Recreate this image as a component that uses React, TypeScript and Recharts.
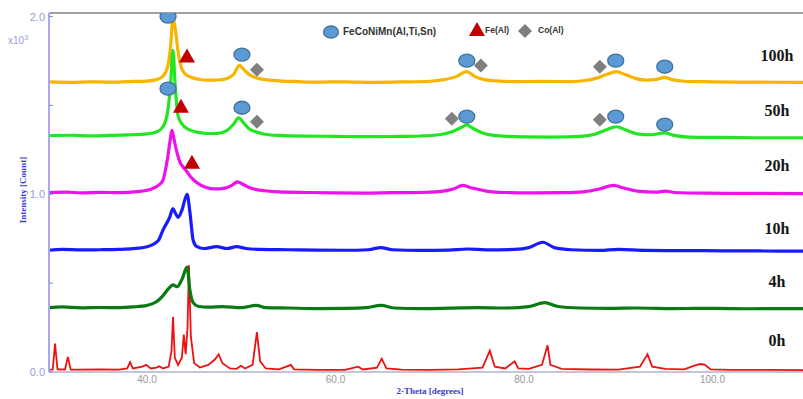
import { ComposedChart, Line, Scatter, XAxis, YAxis, ReferenceLine } from 'recharts';

type Pt = [number, number];

// intensity in thousands of counts vs 2-theta (degrees)
const h100: Pt[] = [
  [29.6, 1.632], [32, 1.630], [34, 1.633], [36, 1.631], [38, 1.634], [40, 1.637], [41, 1.645], [41.7, 1.665],
  [42.2, 1.72], [42.5, 1.83], [42.75, 1.99], [43.0, 1.93], [43.3, 1.80], [43.6, 1.72], [44.0, 1.68], [44.6, 1.66],
  [45.5, 1.647], [46.5, 1.642], [47.5, 1.643], [48.5, 1.652], [49.2, 1.675], [49.8, 1.725], [50.3, 1.70],
  [50.9, 1.672], [51.6, 1.655], [52.5, 1.645], [54, 1.638], [56, 1.634], [58, 1.631], [61, 1.633], [64, 1.630],
  [67, 1.632], [70, 1.636], [71.5, 1.645], [72.8, 1.662], [73.9, 1.69], [74.8, 1.662], [75.8, 1.645], [77, 1.638],
  [79, 1.634], [82, 1.635], [85, 1.634], [86.5, 1.64], [87.8, 1.655], [88.8, 1.675], [89.8, 1.69], [90.8, 1.672],
  [91.8, 1.652], [93, 1.642], [94.2, 1.648], [94.9, 1.658], [95.7, 1.645], [97, 1.636], [100, 1.633], [104, 1.631],
  [109.6, 1.63],
];

const h50: Pt[] = [
  [29.6, 1.33], [32, 1.332], [34, 1.329], [36, 1.331], [38, 1.334], [40, 1.34], [41, 1.35], [41.7, 1.38],
  [42.2, 1.47], [42.5, 1.62], [42.75, 1.81], [43.0, 1.60], [43.3, 1.44], [43.8, 1.39], [44.4, 1.365], [45.3, 1.35],
  [46.5, 1.342], [47.5, 1.343], [48.5, 1.36], [49.2, 1.395], [49.7, 1.43], [50.2, 1.405], [50.8, 1.37],
  [51.6, 1.35], [52.5, 1.338], [54, 1.331], [57, 1.327], [60, 1.326], [63, 1.324], [66, 1.325], [69, 1.328],
  [71, 1.335], [72.5, 1.355], [73.5, 1.38], [73.9, 1.39], [74.6, 1.37], [75.6, 1.345], [77, 1.33], [80, 1.323],
  [83, 1.322], [86, 1.326], [87.5, 1.338], [88.6, 1.36], [89.8, 1.38], [90.8, 1.362], [92, 1.34], [93.5, 1.335],
  [94.9, 1.346], [95.8, 1.333], [97.5, 1.322], [101, 1.32], [105, 1.318], [109.6, 1.318],
];

const h20: Pt[] = [
  [29.6, 1.01], [31.5, 1.012], [33, 1.008], [35, 1.011], [37, 1.009], [39, 1.015], [40.5, 1.03], [41.2, 1.05],
  [41.7, 1.08], [42.2, 1.21], [42.5, 1.32], [42.65, 1.36], [42.9, 1.30], [43.2, 1.23], [43.5, 1.18], [43.8, 1.155],
  [44.2, 1.13], [44.6, 1.10], [45.3, 1.065], [46.2, 1.04], [47.2, 1.03], [48.3, 1.035], [49.0, 1.05], [49.6, 1.07],
  [50.2, 1.055], [51, 1.035], [52.5, 1.02], [54, 1.013], [57, 1.01], [60, 1.008], [63, 1.007], [66, 1.009],
  [69, 1.01], [71, 1.015], [72.5, 1.03], [73.5, 1.05], [74.5, 1.035], [76, 1.018], [78, 1.01], [81, 1.008],
  [84, 1.009], [86.5, 1.015], [88, 1.03], [89.5, 1.05], [90.6, 1.035], [92, 1.018], [94, 1.012], [95, 1.018],
  [96, 1.01], [99, 1.006], [103, 1.005], [109.6, 1.004],
];

const h10: Pt[] = [
  [29.6, 0.685], [31, 0.69], [33, 0.687], [35, 0.688], [37, 0.69], [38.5, 0.694], [40, 0.705], [41.2, 0.74],
  [41.7, 0.80], [42.4, 0.87], [42.75, 0.92], [43.0, 0.895], [43.3, 0.87], [43.7, 0.91], [44.25, 1.0], [44.55, 0.90],
  [44.9, 0.74], [45.3, 0.705], [46, 0.695], [47.4, 0.705], [48.5, 0.695], [49.5, 0.705], [50.5, 0.695], [52, 0.69],
  [55, 0.688], [58, 0.686], [61, 0.685], [63.5, 0.688], [64.8, 0.70], [66, 0.688], [69, 0.684], [72, 0.686],
  [74, 0.692], [76, 0.687], [79, 0.69], [80.5, 0.70], [82, 0.73], [83.2, 0.70], [85, 0.688], [88, 0.684],
  [90, 0.69], [93, 0.684], [97, 0.683], [101, 0.682], [105, 0.681], [109.6, 0.68],
];

const h4: Pt[] = [
  [29.6, 0.362], [31, 0.366], [33, 0.361], [35, 0.363], [37, 0.362], [38.5, 0.366], [40, 0.375], [41, 0.395],
  [41.7, 0.43], [42.3, 0.47], [42.75, 0.49], [43.2, 0.48], [43.7, 0.52], [44.25, 0.59], [44.55, 0.46], [44.9, 0.39],
  [45.4, 0.37], [46.5, 0.365], [48, 0.368], [50, 0.362], [51.6, 0.375], [52.6, 0.362], [55, 0.36], [58, 0.357],
  [61, 0.358], [63.3, 0.362], [64.8, 0.375], [66.3, 0.36], [69, 0.357], [72, 0.359], [75, 0.362], [78, 0.36],
  [80.5, 0.368], [82.2, 0.39], [83.5, 0.37], [86, 0.36], [89, 0.358], [92, 0.36], [96, 0.357], [100, 0.358],
  [104, 0.356], [109.6, 0.357],
];

const h0: Pt[] = [
  [29.6, 0.012], [30.0, 0.015], [30.24, 0.16], [30.5, 0.015], [31.3, 0.014], [31.6, 0.085], [31.9, 0.014],
  [33, 0.013], [35, 0.015], [37, 0.013], [37.9, 0.02], [38.2, 0.055], [38.5, 0.02], [39.5, 0.03], [39.9, 0.04],
  [40.4, 0.02], [41, 0.025], [41.3, 0.032], [41.7, 0.02], [42.3, 0.03], [42.6, 0.12], [42.76, 0.31], [42.95, 0.08],
  [43.3, 0.04], [43.7, 0.08], [43.9, 0.21], [44.1, 0.1], [44.3, 0.25], [44.45, 0.6], [44.65, 0.2], [45, 0.05],
  [45.6, 0.025], [46.5, 0.04], [47.2, 0.07], [47.6, 0.1], [48.0, 0.05], [48.8, 0.02], [49.5, 0.018], [49.97, 0.035],
  [50.4, 0.02], [51.2, 0.04], [51.66, 0.225], [52.0, 0.06], [52.6, 0.02], [54, 0.015], [55.27, 0.04], [55.6, 0.015],
  [58, 0.012], [61, 0.012], [62.4, 0.03], [62.9, 0.014], [64.4, 0.025], [64.9, 0.075], [65.4, 0.02], [67, 0.013],
  [70, 0.012], [73, 0.015], [75.6, 0.025], [76.37, 0.12], [76.9, 0.03], [78, 0.02], [79.0, 0.06], [79.4, 0.02],
  [80.5, 0.018], [81.9, 0.04], [82.5, 0.15], [82.8, 0.04], [84, 0.018], [87, 0.014], [90, 0.013], [92.3, 0.03],
  [93.1, 0.1], [93.6, 0.03], [95, 0.018], [97, 0.015], [98.3, 0.04], [98.75, 0.045], [99.2, 0.04], [99.8, 0.015],
  [102, 0.012], [106, 0.012], [109.6, 0.011],
];

// phase markers
const feCoNiMn: Pt[] = [
  [42.23, 2.0], [50.07, 1.786], [73.93, 1.752], [89.73, 1.752], [94.93, 1.718],
  [42.23, 1.594], [50.07, 1.487], [73.93, 1.437], [89.73, 1.437], [94.93, 1.392],
];
const feAl: Pt[] = [[44.24, 1.775], [43.6, 1.493], [44.77, 1.177]];
const coAl: Pt[] = [
  [51.66, 1.701], [75.42, 1.724], [88.04, 1.718],
  [51.66, 1.408], [72.34, 1.425], [88.04, 1.42],
];

const seriesNames = ['0h', '4h', '10h', '20h', '100h', '50h'];
const seriesData = [h0, h4, h10, h20, h100, h50];
const seriesColors = ['#ee1111', '#0b7a12', '#1a1aff', '#ee11ee', '#f7b500', '#22e622'];

const hourLabels = ['100h', '50h', '20h', '10h', '4h', '0h'];
const hourLabelTops = [57, 112, 167, 230, 283, 342];

const xTicks = [40, 60, 80, 100];
const yTicks = [0, 0.5, 1, 1.5, 2];

const toRows = (pts: Pt[]) => pts.map(([x, y]) => ({ x, y }));

const Ellipse = (p: any) => (
  <ellipse cx={p.cx} cy={p.cy} rx={8} ry={6.5} fill="#5b9bd5" stroke="#41719c" strokeWidth={1.3} />
);
const Triangle = (p: any) => (
  <polygon points={`${p.cx},${p.cy - 8} ${p.cx - 8},${p.cy + 6} ${p.cx + 8},${p.cy + 6}`} fill="#c00000" />
);
const Diamond = (p: any) => (
  <polygon points={`${p.cx},${p.cy - 7} ${p.cx + 7},${p.cy} ${p.cx},${p.cy + 7} ${p.cx - 7},${p.cy}`} fill="#7f7f7f" />
);

const YTick = (p: any) => {
  const v = p.payload.value;
  const whole = Number.isInteger(v);
  return (
    <g>
      <line x1={p.x + 4} x2={p.x + 8} y1={p.y} y2={p.y} stroke="#8888cc" strokeWidth={1} />
      {whole && (
        <text x={p.x} y={p.y} dy={4} textAnchor="end" fontSize={11} fill="#9a9ae0" fontFamily="Liberation Sans, Arial">
          {v.toFixed(1)}
        </text>
      )}
    </g>
  );
};

const serifBlue = { fontFamily: 'Liberation Serif, Times New Roman, serif', fontWeight: 700, color: '#3a3ad0', fontSize: 9 };

export default function App() {
  return (
    <div style={{ position: 'absolute', left: 0, top: 0, width: 803, height: 399, overflow: 'hidden', background: '#fff' }}>
      <ComposedChart width={803} height={399} margin={{ top: 13, right: 0, bottom: 0, left: 0 }}>
        <XAxis
          dataKey="x"
          type="number"
          domain={[29.6, 109.6]}
          ticks={xTicks}
          allowDataOverflow
          height={27}
          tickSize={0}
          tickMargin={4}
          tickFormatter={(v: number) => v.toFixed(1)}
          tick={{ fontSize: 10, fill: '#999', fontFamily: 'Liberation Sans, Arial' }}
          axisLine={{ stroke: '#c4c6d6', strokeWidth: 2 }}
        />
        <YAxis
          dataKey="y"
          type="number"
          domain={[0, 2.02]}
          ticks={yTicks}
          allowDataOverflow
          width={49}
          tickSize={0}
          tickMargin={4}
          tickLine={false}
          tick={<YTick />}
          axisLine={{ stroke: '#a8a8f0', strokeWidth: 2 }}
        />
        <ReferenceLine y={2.02} stroke="#a0a0a0" strokeWidth={2} />
        {seriesData.map((d, i) => (
          <Line
            key={seriesNames[i]}
            data={toRows(d)}
            dataKey="y"
            type={i === 0 ? 'linear' : 'monotone'}
            stroke={seriesColors[i]}
            strokeWidth={i === 0 ? 1.8 : 3.2}
            dot={false}
            isAnimationActive={false}
          />
        ))}
        <Scatter data={toRows(coAl)} dataKey="y" shape={Diamond} isAnimationActive={false} />
        <Scatter data={toRows(feAl)} dataKey="y" shape={Triangle} isAnimationActive={false} />
        <Scatter data={toRows(feCoNiMn)} dataKey="y" shape={Ellipse} isAnimationActive={false} />
      </ComposedChart>

      {/* legend */}
      <svg width={803} height={50} style={{ position: 'absolute', left: 0, top: 0 }}>
        <ellipse cx={331} cy={32} rx={7.5} ry={6} fill="#5b9bd5" stroke="#41719c" strokeWidth={1.3} />
        <text x={343} y={35} fontSize={10} fontWeight={700} fill="#333" fontFamily="Liberation Sans, Arial">FeCoNiMn(Al,Ti,Sn)</text>
        <polygon points="477,22 469,36 485,36" fill="#c00000" />
        <text x={485} y={33} fontSize={8.5} fontWeight={700} fill="#333" fontFamily="Liberation Sans, Arial">Fe(Al)</text>
        <polygon points="525,24 532,31 525,38 518,31" fill="#7f7f7f" />
        <text x={538} y={33} fontSize={8.5} fontWeight={700} fill="#333" fontFamily="Liberation Sans, Arial">Co(Al)</text>
      </svg>

      {hourLabels.map((t, i) => (
        <div
          key={t}
          style={{
            position: 'absolute', left: 737, width: 80, top: hourLabelTops[i] - 10, textAlign: 'center',
            fontFamily: 'Liberation Serif, Times New Roman, serif', fontWeight: 700, fontSize: 16, color: '#151515',
          }}
        >
          {t}
        </div>
      ))}

      <div style={{ position: 'absolute', left: 8, top: 34, fontSize: 10, color: '#9a9ae0', fontFamily: 'Liberation Sans, Arial' }}>
        x10<sup style={{ fontSize: 7 }}>3</sup>
      </div>
      <div style={{ ...serifBlue, position: 'absolute', left: 23, top: 190, transform: 'translate(-50%, -50%) rotate(-90deg)', whiteSpace: 'nowrap' }}>
        Intensity [Count]
      </div>
      <div style={{ ...serifBlue, position: 'absolute', left: 430, top: 391, transform: 'translate(-50%, -50%)', whiteSpace: 'nowrap' }}>
        2-Theta [degrees]
      </div>
    </div>
  );
}
